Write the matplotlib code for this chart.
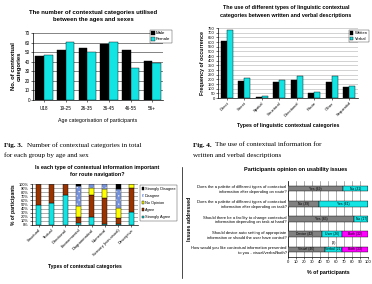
import numpy as np
import matplotlib
matplotlib.use('Agg')
import matplotlib.pyplot as plt

plt.rcParams['font.family'] = ['Liberation Sans', 'DejaVu Sans']
plt.rcParams['hatch.linewidth'] = 0.3

W, H = 372, 284

# --- data ---
ages = ['U18', '19-25', '26-35', '36-45', '46-55', '56+']
male = [46, 52, 54, 59, 52, 41]
female = [47, 61, 50, 61, 33, 39]

ling_cats = ['Direct', 'Street', 'Spatial', 'Structural', 'Directional', 'Route', 'Other', 'Sequential']
written = [612, 177, 10, 167, 188, 53, 174, 117]
verbal = [732, 213, 25, 195, 234, 67, 234, 131]

ctx_cats = ['Structural', 'Textual', 'Directional', 'Environmental', 'Diagrammatical',
            'Numerical', 'Sensory (non-visual)', 'Descriptive']
s_agree = [50, 54, 73, 4, 20, 3, 3, 31]
agree = [50, 46, 27, 16, 53, 64, 13, 60]
no_op = [0, 0, 0, 27, 18, 22, 26, 9]
disagree = [0, 0, 0, 49, 9, 11, 47, 0]
s_disagree = [0, 0, 0, 4, 0, 0, 11, 0]

questions = ['Does the a palette of different types of contextual\ninformation alter depending on route?',
             'Does the a palette of different types of contextual\ninformation alter depending on task?',
             'Should there be a facility to change contextual\ninformation depending on task at hand?',
             'Should device auto setting of appropriate\ninformation or should the user have control?',
             'How would you like contextual information presented\nto you - visual/verbal/both?']
seg1 = [69, 39, 83, 42, 46]
seg2 = [31, 61, 17, 26, 21]
seg3 = [0, 0, 0, 32, 33]
lab1 = ['Yes (69)', 'No (39)', 'Yes (83)', 'Device (42)', 'Visual (46)']
lab2 = ['No (31)', 'Yes (61)', 'No (17)', 'User (26)', 'Verbal (21)']
lab3 = ['', '', '', 'Both (32)', 'Both (33)']

CYAN = '#12E4E4'
BROWN = '#993300'


def px_axes(fig, x0, y0, x1, y1):
    return fig.add_axes([x0 / W, 1 - y1 / H, (x1 - x0) / W, (y1 - y0) / H])


def style(ax, fs=3.3):
    ax.tick_params(labelsize=fs, length=1.2, width=0.4, pad=1)
    for s in ['top', 'right']:
        ax.spines[s].set_visible(False)
    for s in ['left', 'bottom']:
        ax.spines[s].set_linewidth(0.5)


fig = plt.figure(figsize=(W / 100, H / 100), dpi=100)

# ---------- chart 1 ----------
ax1 = px_axes(fig, 33, 33, 163, 100)
x = np.arange(len(ages))
ax1.bar(x - 0.2, male, 0.4, color='black', edgecolor='black', linewidth=0.3, label='Male', zorder=3)
ax1.bar(x + 0.2, female, 0.4, color=CYAN, edgecolor='black', linewidth=0.3, label='Female', zorder=3)
ax1.set_ylim(0, 70)
ax1.set_yticks(range(0, 71, 10))
ax1.set_xticks(x)
ax1.set_xticklabels(ages)
ax1.set_xlim(-0.5, len(ages) - 0.5)
ax1.grid(axis='y', color='#707070', linewidth=0.6, zorder=0)
style(ax1)
ax1.tick_params(axis='x', pad=3)
ax1.set_ylabel('No. of contextual\ncategories', fontsize=4.2, fontweight='bold', labelpad=2)
ax1.set_xlabel('Age categorisation of participants', fontsize=3.8, labelpad=5)
fig.text(93 / W, 1 - 16 / H, 'The number of contextual categories utilised\nbetween the ages and sexes',
         ha='center', va='center', fontsize=4.3, fontweight='bold', linespacing=1.6)
ax1.legend(loc='upper left', bbox_to_anchor=(0.88, 1.08), fontsize=3.2, frameon=True,
           fancybox=False, edgecolor='black', handlelength=0.8, handleheight=0.8,
           borderpad=0.3, labelspacing=0.4, handletextpad=0.3).get_frame().set_linewidth(0.3)

# ---------- chart 2 ----------
ax2 = px_axes(fig, 218, 28, 358, 98)
x = np.arange(len(ling_cats))
ax2.bar(x - 0.17, written, 0.34, color='black', edgecolor='black', linewidth=0.3, label='Written', zorder=3)
ax2.bar(x + 0.17, verbal, 0.34, color=CYAN, edgecolor='black', linewidth=0.3, label='Verbal', zorder=3)
ax2.set_ylim(0, 750)
ax2.set_yticks(range(0, 751, 50))
ax2.set_xticks(x)
ax2.set_xticklabels(ling_cats, rotation=45, ha='right', rotation_mode='anchor')
ax2.set_xlim(-0.5, len(ling_cats) - 0.5)
ax2.grid(axis='y', color='#b0b0b0', linewidth=0.4, zorder=0)
style(ax2, fs=3.0)
ax2.set_ylabel('Frequency of occurrence', fontsize=3.8, fontweight='bold', labelpad=2)
ax2.set_xlabel('Types of linguistic contextual categories', fontsize=3.8, fontweight='bold', labelpad=4)
fig.text(286 / W, 1 - 11.5 / H, 'The use of different types of linguistic contextual\ncategories between written and verbal descriptions',
         ha='center', va='center', fontsize=3.9, fontweight='bold', linespacing=1.6)
ax2.legend(loc='upper left', bbox_to_anchor=(0.92, 1.0), fontsize=3.0, frameon=True,
           fancybox=False, edgecolor='black', handlelength=0.8, handleheight=0.8,
           borderpad=0.3, labelspacing=0.4, handletextpad=0.3).get_frame().set_linewidth(0.3)

# ---------- captions ----------
cap = dict(family='Liberation Serif', fontsize=5.1, va='center')
fig.text(4 / W, 1 - 145 / H, 'Fig. 3.', fontweight='bold', **cap)
fig.text(27 / W, 1 - 145 / H, 'Number of contextual categories in total', **cap)
fig.text(4 / W, 1 - 155.5 / H, 'for each group by age and sex', **cap)
fig.text(193 / W, 1 - 145 / H, 'Fig. 4.', fontweight='bold', **cap)
fig.text(215 / W, 1 - 145 / H, 'The use of contextual information for', **cap)
fig.text(193 / W, 1 - 155.5 / H, 'written and verbal descriptions', **cap)

# ---------- chart 3 ----------
ax3 = px_axes(fig, 32, 184, 138, 225)
x = np.arange(len(ctx_cats))
bottom = np.zeros(len(ctx_cats))
layers = [(s_agree, CYAN, 'Strongly Agree', None),
          (agree, BROWN, 'Agree', None),
          (no_op, '#FFFF00', 'No Opinion', None),
          (disagree, '#7393E0', 'Disagree', '....'),
          (s_disagree, 'black', 'Strongly Disagree', None)]
handles = []
for vals, col, lab, hatch in layers:
    b = ax3.bar(x, vals, 0.36, bottom=bottom, color=col, edgecolor='black', linewidth=0.3,
                hatch=hatch, label=lab, zorder=3)
    if hatch:
        for p in b:
            p.set_edgecolor('white')
        ax3.bar(x, vals, 0.36, bottom=bottom, fill=False, edgecolor='black', linewidth=0.3, zorder=4)
    bottom += np.array(vals)
    handles.append(b)
ax3.set_ylim(0, 100)
ax3.set_yticks(range(0, 101, 10))
ax3.set_yticklabels([f'{v}%' for v in range(0, 101, 10)])
ax3.set_xticks(x)
ax3.set_xticklabels(ctx_cats, rotation=45, ha='right', rotation_mode='anchor')
ax3.set_xlim(-0.5, len(ctx_cats) - 0.5)
ax3.grid(axis='y', color='#707070', linewidth=0.4, zorder=0)
style(ax3, fs=2.9)
ax3.set_ylabel('% of participants', fontsize=3.6, fontweight='bold', labelpad=2)
ax3.set_xlabel('Types of contextual categories', fontsize=3.6, fontweight='bold', labelpad=5)
fig.text(97 / W, 1 - 171 / H, 'Is each type of contextual information important\nfor route navigation?',
         ha='center', va='center', fontsize=3.9, fontweight='bold', linespacing=1.4)
leg3 = ax3.legend(handles[::-1], [l[2] for l in layers][::-1], loc='upper left',
                  bbox_to_anchor=(1.0, 1.02), fontsize=2.8, frameon=True, fancybox=False,
                  edgecolor='black', handlelength=0.6, handleheight=0.6, borderpad=0.4,
                  labelspacing=0.8, handletextpad=0.3)
leg3.get_frame().set_linewidth(0.3)
fig.add_artist(plt.Line2D([182 / W, 182 / W], [1 - 167 / H, 1 - 278 / H], color='black', linewidth=0.5))

# ---------- chart 4 ----------
ax4 = px_axes(fig, 288, 181, 368, 257)
y = np.arange(len(questions))
ax4.barh(y, seg1, 0.36, color='#808080', edgecolor='black', linewidth=0.3, zorder=3)
ax4.barh(y, seg2, 0.36, left=seg1, color=CYAN, edgecolor='black', linewidth=0.3, zorder=3)
left3 = np.array(seg1) + np.array(seg2)
ax4.barh(y, seg3, 0.36, left=left3, color='#FF00FF', edgecolor='black', linewidth=0.3, zorder=3)
for i in range(len(questions)):
    ax4.text(seg1[i] / 2, y[i], lab1[i], ha='center', va='center', fontsize=2.4, zorder=5)
    ax4.text(seg1[i] + seg2[i] / 2, y[i], lab2[i], ha='center', va='center', fontsize=2.4, zorder=5)
    if seg3[i]:
        ax4.text(left3[i] + seg3[i] / 2, y[i], lab3[i], ha='center', va='center', fontsize=2.4, zorder=5)
ax4.text(58, 4 - 0.45, '(3)', ha='center', va='center', fontsize=2.6, zorder=5)
ax4.set_ylim(4.5, -0.5)
ax4.set_xlim(0, 100)
ax4.set_xticks(range(0, 101, 10))
ax4.set_yticks(y)
ax4.set_yticklabels(questions, fontsize=2.3, linespacing=1.3)
ax4.grid(axis='x', color='#707070', linewidth=0.4, zorder=0)
style(ax4, fs=3.0)
ax4.tick_params(axis='y', length=0)
ax4.set_ylabel('Issues addressed', fontsize=3.8, fontweight='bold', labelpad=2)
ax4.yaxis.set_label_coords(-1.2, 0.5)
ax4.set_xlabel('% of participants', fontsize=3.8, fontweight='bold', labelpad=4)
fig.text(296 / W, 1 - 169 / H, 'Participants opinion on usability issues',
         ha='center', va='center', fontsize=4.0, fontweight='bold')

fig.savefig('out.png', dpi=100)
